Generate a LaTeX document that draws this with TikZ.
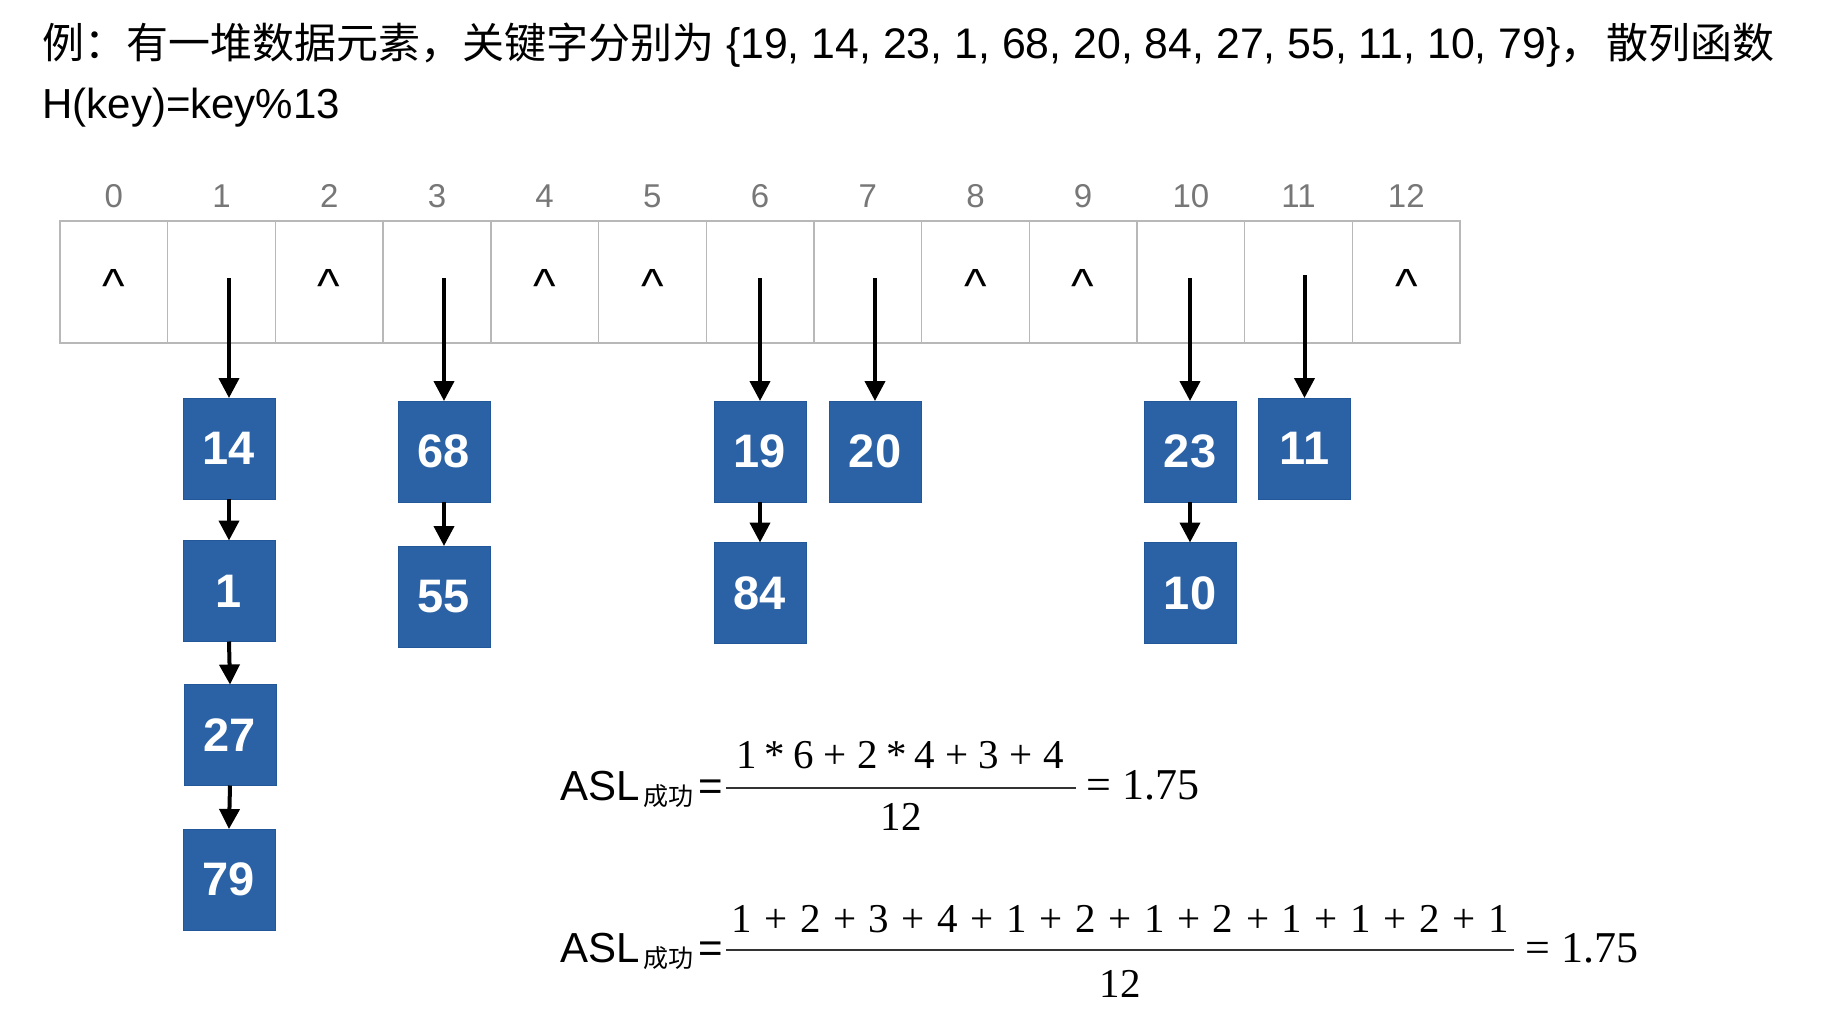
\documentclass[tikz,border=0pt]{standalone}
\usepackage{fontspec}
\setmainfont{Liberation Sans}
\newfontfamily\cjk{Noto Sans CJK SC}
\newfontfamily\serif{Liberation Serif}
\usetikzlibrary{arrows.meta}
\definecolor{boxblue}{HTML}{2B62A6}
\definecolor{boxedge}{HTML}{22579A}
\definecolor{gridgray}{HTML}{B8B8B8}
\definecolor{idxgray}{HTML}{777777}
\newcommand\gA{\hspace{4pt}}
\newcommand\gB{\hspace{5.2pt}}
\newcommand\gC{\hspace{6.3pt}}
\begin{document}
\begin{tikzpicture}[x=0.5pt,y=-0.5pt,
  cell/.style={draw=gridgray,line width=0.7pt,minimum width=53.85pt,minimum height=61pt,inner sep=0pt,outer sep=0pt,anchor=north west},
  idx/.style={text=idxgray,font=\fontsize{16.5}{18}\selectfont,anchor=base,inner sep=0pt},
  nul/.style={font=\fontsize{24}{26}\selectfont,anchor=base,inner sep=0pt},
  key/.style={fill=boxblue,draw=boxedge,line width=0.5pt,minimum width=46pt,minimum height=50.5pt,inner sep=0pt,outer sep=0pt,text=white,font=\fontsize{23.5}{25}\selectfont\bfseries},
  arr/.style={line width=2pt,-{Triangle[length=10pt,width=10pt]}},
  txt/.style={anchor=base west,inner sep=0pt,font=\fontsize{21}{25}\selectfont},
  sub/.style={anchor=base west,inner sep=0pt,font=\cjk\fontsize{12.5}{14}\selectfont},
  frm/.style={anchor=base,inner sep=0pt,font=\serif\fontsize{20.5}{24}\selectfont},
  frmw/.style={anchor=base west,inner sep=0pt,font=\serif\fontsize{22}{26}\selectfont},
  bar/.style={line width=1pt,draw=black!80},
]
\useasboundingbox (0,0) rectangle (1832,1029);
\fill[white] (0,0) rectangle (1832,1029);

% title
\node[txt] (t1) at (42,58) {{\cjk 例：有一堆数据元素，关键字分别为} {\fontsize{21.4}{25}\selectfont\{19, 14, 23, 1, 68, 20, 84, 27, 55, 11, 10, 79\}}{\cjk ，}\hspace{2pt}{\cjk 散列函数}};
\node[txt] (t2) at (42,118) {H(key)=key\%13};

% hash table
\foreach \i in {0,...,12} {
  \node[cell] (c\i) at ({60+107.7*\i},221) {};
  \node[idx] (i\i) at ({60+107.7*(\i+0.5)},207) {\i};
}
\foreach \i in {0,2,4,5,8,9,12} {
  \node[nul] (n\i) at ({60+107.7*(\i+0.5)},302) {\textasciicircum};
}

% key boxes
\node[key] (b14) at (229,448.5) {14};
\node[key] (b1)  at (229,591) {1};
\node[key] (b27) at (230,735) {27};
\node[key] (b79) at (229,879.5) {79};
\node[key] (b68) at (444,451.5) {68};
\node[key] (b55) at (444,596.5) {55};
\node[key] (b19) at (760,451.5) {19};
\node[key] (b84) at (760,593) {84};
\node[key] (b20) at (875,451.5) {20};
\node[key] (b23) at (1190,451.5) {23};
\node[key] (b10) at (1190,593) {10};
\node[key] (b11) at (1304.5,448.5) {11};

% pointers from the table
\coordinate (p1) at (229,278);
\coordinate (p3) at (444,278);
\coordinate (p6) at (760,278);
\coordinate (p7) at (875,278);
\coordinate (p10) at (1190,278);
\coordinate (p11) at (1304.5,275);
\draw[arr] (p1) -- (b14.north);
\draw[arr] (p3) -- (b68.north);
\draw[arr] (p6) -- (b19.north);
\draw[arr] (p7) -- (b20.north);
\draw[arr] (p10) -- (b23.north);
\draw[arr] (p11) -- (b11.north);

% chains
\draw[arr] (b14.south) -- (b1.north);
\draw[arr] (b1.south) -- (b27.north);
\draw[arr] (b27.south) -- (b79.north);
\draw[arr] (b68.south) -- (b55.north);
\draw[arr] (b19.south) -- (b84.north);
\draw[arr] (b23.south) -- (b10.north);

% formula 1
\node[txt] (asl1) at (560,800) {ASL};
\node[sub] (s1) at (643,805) {成功};
\node[txt] (e1) at (698,800) {=};
\coordinate (l1) at (726,788);
\coordinate (r1) at (1076,788);
\draw[bar] (l1) -- (r1);
\node[frm] (num1) at (900,768) {1\gA*\gA6\gB+\gB2\gA*\gA4\gB+\gB3\gB+\gB4};
\node[frm] (den1) at (901,830) {12};
\node[frmw] (res1) at (1086,799) {= 1.75};

% formula 2
\node[txt] (asl2) at (560,962) {ASL};
\node[sub] (s2) at (643,967) {成功};
\node[txt] (e2) at (698,962) {=};
\coordinate (l2) at (726,950);
\coordinate (r2) at (1514,950);
\draw[bar] (l2) -- (r2);
\node[frm] (num2) at (1120,932) {1\gC+\gC2\gC+\gC3\gC+\gC4\gC+\gC1\gC+\gC2\gC+\gC1\gC+\gC2\gC+\gC1\gC+\gC1\gC+\gC2\gC+\gC1};
\node[frm] (den2) at (1120,997) {12};
\node[frmw] (res2) at (1525,962) {= 1.75};
\end{tikzpicture}
\end{document}
